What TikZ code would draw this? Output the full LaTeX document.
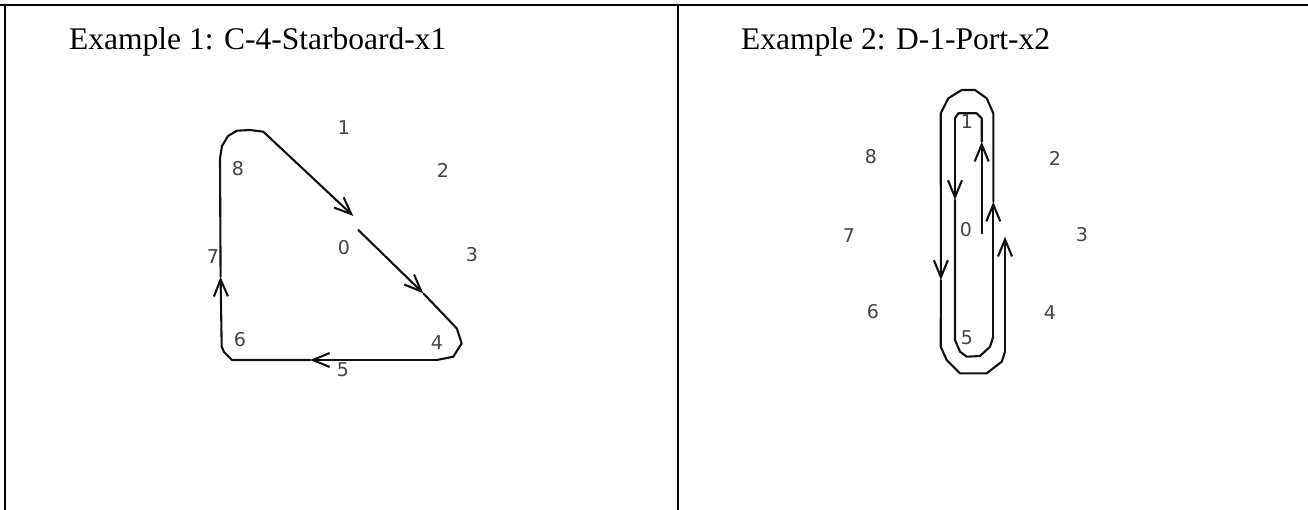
\documentclass[tikz,border=0pt]{standalone}
\usepackage{fontspec}
\setmainfont{Liberation Serif}
\newfontfamily\digitfont{DejaVu Sans}
\usepackage{tikz}
\usetikzlibrary{arrows.meta,positioning,calc}
\usepackage{xcolor}
\definecolor{digitgray}{HTML}{444444}
\definecolor{inkline}{HTML}{111111}

\begin{document}
\begin{tikzpicture}[x=1pt, y=-1pt,
    rule/.style={line width=2pt, black},
    title/.style={anchor=base west, inner sep=0pt, font=\fontsize{31.5}{36}\selectfont},
    digit/.style={inner sep=0pt, text=digitgray, font=\digitfont\fontsize{19}{19}\selectfont},
    trace/.style={line width=2.1pt, inkline, line join=round, line cap=round},
    >={Straight Barb[length=17pt, width=14pt]}]
    \useasboundingbox (0,0) rectangle (1308,510);
    % table rules
    \draw[rule] (0,5.5) -- (1308,5.5);
    \draw[rule] (4.5,4.5) -- (4.5,510);
    \draw[rule] (678,4.5) -- (678,510);
    \node[title] (head1) at (69,50) {Example 1: C-4-Starboard-x1};
    \node[title] (head2) at (741,50) {Example 2: D-1-Port-x2};

    % example 1: compass digits
    \node[digit] (a0) at (344,248) {0};
    \node[digit] (a1) at (344,128) {1};
    \node[digit] (a2) at (443,170) {2};
    \node[digit] (a3) at (472,255) {3};
    \node[digit] (a4) at (437,343) {4};
    \node[digit] (a5) at (343,370) {5};
    \node[digit] (a6) at (240,340) {6};
    \node[digit] (a7) at (213,257) {7};
    \node[digit] (a8) at (238,169) {8};
    % example 1: track
    \coordinate (p0) at (358.3,230);
    \coordinate (p1) at (423.3,293.3);
    \coordinate (p2) at (456.7,328.3);
    \coordinate (p3) at (436.7,360);
    \coordinate (p4) at (310,360);
    \coordinate (p5) at (221.7,346.7);
    \coordinate (p6) at (220.6,276.7);
    \coordinate (p7) at (220,158.3);
    \coordinate (p8) at (263.3,131.7);
    \coordinate (p9) at (353.3,216);
    \draw[trace,->] (p0) -- (p1);
    \draw[trace] (p1) -- (p2) -- (461.7,343.3) -- (453.3,356.7) -- (p3);
    \draw[trace,->] (p3) -- (p4);
    \draw[trace] (p4) -- (232,360) -- (224,352) -- (p5);
    \draw[trace,->] (p5) -- (p6);
    \draw[trace] (p6) -- (p7) -- (222,146) -- (228,136) -- (237,130.7) -- (250,130) -- (p8);
    \draw[trace,->] (p8) -- (p9);

    % example 2: compass digits
    \node[digit] (b0) at (966,230) {0};
    \node[digit] (b1) at (967,122) {1};
    \node[digit] (b2) at (1055,158) {2};
    \node[digit] (b3) at (1082,235) {3};
    \node[digit] (b4) at (1050,313) {4};
    \node[digit] (b5) at (967,338) {5};
    \node[digit] (b6) at (873,312) {6};
    \node[digit] (b7) at (849,236) {7};
    \node[digit] (b8) at (871,157) {8};
    % example 2: track
    \coordinate (q0) at (981.7,233.3);
    \coordinate (q1) at (981.7,141.7);
    \coordinate (q2) at (955,118.3);
    \coordinate (q3) at (955,200);
    \coordinate (q4) at (993.3,336.7);
    \coordinate (q5) at (993.3,201.7);
    \coordinate (q6) at (940.7,113.3);
    \coordinate (q7) at (940.9,280);
    \coordinate (q8) at (1005,351.7);
    \coordinate (q9) at (1005,236.7);
    \draw[trace,->] (q0) -- (q1);
    \draw[trace] (q1) -- (981.7,118.3) -- (976.7,113.3) -- (958.3,113.3) -- (q2);
    \draw[trace,->] (q2) -- (q3);
    \draw[trace] (q3) -- (955,340) -- (960,351.7) -- (966.7,356.7) -- (980,356)
        -- (990,346.7) -- (q4);
    \draw[trace,->] (q4) -- (q5);
    \draw[trace] (q5) -- (993.3,113.3) -- (986.7,98.3) -- (975,90) -- (961.7,90)
        -- (948.3,98.3) -- (q6);
    \draw[trace,->] (q6) -- (q7);
    \draw[trace] (q7) -- (940.7,346.7) -- (946.7,360) -- (960,373.3) -- (986.7,373.3)
        -- (1001.7,361.7) -- (q8);
    \draw[trace,->] (q8) -- (q9);
\end{tikzpicture}
\end{document}
